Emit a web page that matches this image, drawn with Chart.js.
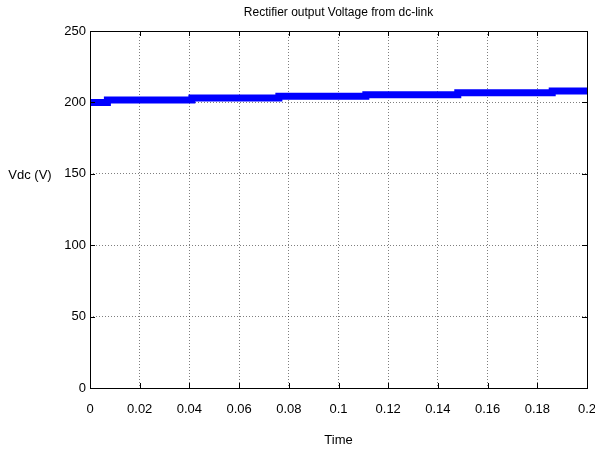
<!DOCTYPE html>
<html>
<head>
<meta charset="utf-8">
<script src="https://cdn.jsdelivr.net/npm/chart.js@4/dist/chart.umd.min.js"></script>
<style>
    html, body { margin: 0; padding: 0; background: #fff; }
    canvas { display: block; }
</style>
</head>
<body>
<canvas id="vdcChart" width="595" height="454"></canvas>
<script>
// Step times (s) and the dc-link voltage held from each one (V)
const stepTimes = [0, 0.007, 0.041, 0.076, 0.111, 0.148, 0.186, 0.2];
const stepVolts = [200, 201.6, 203, 204.3, 205.4, 206.7, 208, 208];

const xTicks = [0, 0.02, 0.04, 0.06, 0.08, 0.1, 0.12, 0.14, 0.16, 0.18, 0.2];
const yTicks = [0, 50, 100, 150, 200, 250];

const FONT = '"Liberation Sans Narrow", "Arial Narrow", "Liberation Sans", Arial, sans-serif';

// MATLAB-like frame, inward tick marks and a horizontal y label
const matlabAxes = {
    id: 'matlabAxes',
    afterDraw(chart) {
        const { ctx, chartArea: a, scales } = chart;
        ctx.save();
        ctx.strokeStyle = '#000';
        ctx.lineWidth = 1;
        ctx.beginPath();
        xTicks.forEach(v => {
            const x = Math.round(scales.x.getPixelForValue(v)) + 0.5;
            ctx.moveTo(x, a.bottom); ctx.lineTo(x, a.bottom - 5);
            ctx.moveTo(x, a.top); ctx.lineTo(x, a.top + 5);
        });
        yTicks.forEach(v => {
            const y = Math.round(scales.y.getPixelForValue(v)) + 0.5;
            ctx.moveTo(a.left, y); ctx.lineTo(a.left + 5, y);
            ctx.moveTo(a.right, y); ctx.lineTo(a.right - 5, y);
        });
        ctx.stroke();
        ctx.strokeRect(Math.round(a.left) + 0.5, Math.round(a.top) + 0.5,
            Math.round(a.right - a.left), Math.round(a.bottom - a.top));

        ctx.fillStyle = '#000';
        ctx.font = '13px ' + FONT;
        ctx.textAlign = 'center';
        ctx.textBaseline = 'middle';
        ctx.fillText('Vdc (V)', 30, scales.y.getPixelForValue(150) + 2);
        ctx.restore();
    }
};

new Chart(document.getElementById('vdcChart'), {
    type: 'line',
    data: {
        datasets: [{
            data: stepTimes.map((t, i) => ({ x: t, y: stepVolts[i] })),
            borderColor: '#0000ff',
            borderWidth: 7,
            pointRadius: 0,
            stepped: 'before',
            fill: false
        }]
    },
    options: {
        responsive: false,
        devicePixelRatio: 1,
        animation: false,
        layout: { padding: { left: 60, right: 8, top: 0, bottom: 0 } },
        plugins: {
            legend: { display: false },
            tooltip: { enabled: false },
            title: {
                display: true,
                fullSize: false,
                text: 'Rectifier output Voltage from dc-link',
                color: '#000',
                font: { family: FONT, size: 12, weight: 'normal' },
                padding: { top: 5.8, bottom: 10.8 }
            }
        },
        scales: {
            x: {
                type: 'linear',
                min: 0,
                max: 0.2,
                afterBuildTicks: axis => { axis.ticks = xTicks.map(v => ({ value: v })); },
                afterFit: axis => { axis.height = 66; axis.paddingLeft = 0; axis.paddingRight = 0; },
                ticks: {
                    color: '#000',
                    padding: 14,
                    maxRotation: 0,
                    font: { family: FONT, size: 13 },
                    callback: v => String(Number(v.toFixed(2)))
                },
                grid: { color: 'rgba(0,0,0,0.5)', drawTicks: false },
                border: { display: false, dash: [1, 2] },
                title: {
                    display: true,
                    text: 'Time',
                    color: '#000',
                    font: { family: FONT, size: 13 },
                    padding: { top: 2, bottom: 6 }
                }
            },
            y: {
                min: 0,
                max: 250,
                afterBuildTicks: axis => { axis.ticks = yTicks.map(v => ({ value: v })); },
                afterFit: axis => { axis.width = 30; },
                ticks: {
                    color: '#000',
                    padding: 4,
                    font: { family: FONT, size: 13 }
                },
                grid: { color: 'rgba(0,0,0,0.5)', drawTicks: false },
                border: { display: false, dash: [1, 2] }
            }
        }
    },
    plugins: [matlabAxes]
});
</script>
</body>
</html>
